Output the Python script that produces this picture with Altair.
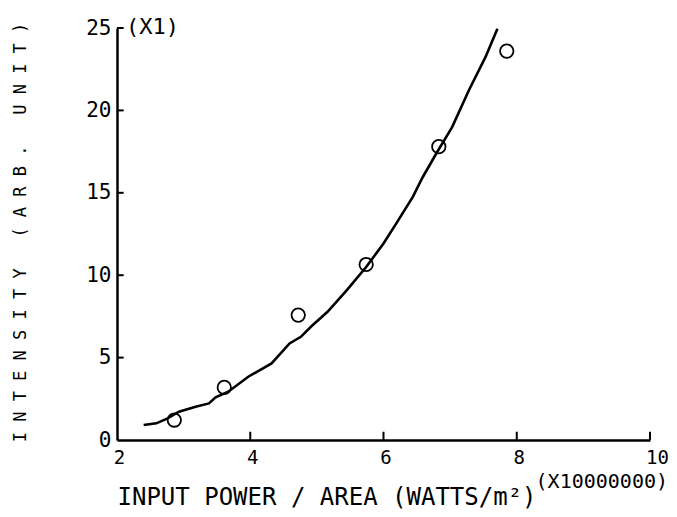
import altair as alt
import pandas as pd

# ---- data ----
line_x = [2.40, 2.59, 2.76, 2.93, 3.18, 3.38, 3.48, 3.67, 3.97, 4.32, 4.59, 4.76,
          4.91, 5.16, 5.45, 5.74, 6.00, 6.19, 6.44, 6.59, 6.79, 7.03, 7.28, 7.53, 7.71]
line_y = [0.91, 1.01, 1.31, 1.72, 2.02, 2.22, 2.59, 2.93, 3.84, 4.65, 5.86, 6.26,
          6.87, 7.78, 9.09, 10.50, 11.92, 13.13, 14.75, 15.96, 17.37, 18.99, 21.21, 23.23, 24.95]
point_x = [2.86, 3.61, 4.72, 5.74, 6.83, 7.85]
point_y = [1.21, 3.19, 7.58, 10.65, 17.80, 23.60]

x_ticks = [2, 4, 6, 8, 10]
y_ticks = [0, 5, 10, 15, 20, 25]
x_inner_ticks = [4, 6, 8, 10]
y_inner_ticks = [5, 10, 15, 20, 25]

x_title = "INPUT POWER / AREA (WATTS/m²)"
y_title = "INTENSITY (ARB. UNIT)"
x_scale_note = "(X10000000)"
y_scale_note = "(X1)"

FONT = "DejaVu Sans Mono"
NBSP = "\u00a0"

xs = alt.Scale(domain=[2, 10], nice=False, zero=False)
ys = alt.Scale(domain=[0, 25], nice=False, zero=False)

x_axis = alt.Axis(
    values=x_ticks, ticks=False, grid=False,
    domainColor="black", domainWidth=2.5,
    labelFont=FONT, labelFontSize=19, labelColor="black",
    labelPadding=8, labelFlush=False, labelOverlap=False,
    labelOffset={"condition": {"test": "datum.value == 10", "value": 7}, "value": 2},
    title=x_title, titleFont=FONT, titleFontSize=24, titleFontWeight="normal",
    titleColor="black", titleAnchor="start", titleAlign="left",
    titleBaseline="middle", titleX=0, titleY=57,
)
y_axis = alt.Axis(
    values=y_ticks, ticks=False, grid=False,
    domainColor="black", domainWidth=2.5,
    labelFont=FONT, labelFontSize=21, labelColor="black",
    labelPadding=6, labelFlush=False, labelOverlap=False,
    title=NBSP.join(y_title.replace(" ", NBSP)), titleFont=FONT, titleFontSize=17,
    titleFontWeight="normal", titleColor="black",
    titleAngle=270, titleAlign="center", titleBaseline="middle",
    titleX=-97, titleY=204,
)

X = alt.X("x:Q", scale=xs, axis=x_axis)
Y = alt.Y("y:Q", scale=ys, axis=y_axis)

line_df = pd.DataFrame({"x": line_x, "y": line_y})
pts_df = pd.DataFrame({"x": point_x, "y": point_y})
xt_df = pd.DataFrame({"x": x_inner_ticks, "y": [0] * len(x_inner_ticks),
                      "y2": [0.5] * len(x_inner_ticks)})
yt_df = pd.DataFrame({"y": y_inner_ticks, "x": [2] * len(y_inner_ticks),
                      "x2": [2.1] * len(y_inner_ticks)})
ynote_df = pd.DataFrame({"x": [2], "y": [25], "t": [y_scale_note]})
xnote_df = pd.DataFrame({"x": [10], "y": [0], "t": [x_scale_note]})

curve = alt.Chart(line_df).mark_line(color="black", strokeWidth=2.6).encode(
    x=X, y=Y, order="x:Q",
)

points = alt.Chart(pts_df).mark_point(
    shape="circle", filled=False, color="black", size=180, strokeWidth=1.8, opacity=1
).encode(x=X, y=Y)

xticks = alt.Chart(xt_df).mark_rule(color="black", strokeWidth=2).encode(
    x=X, y=Y, y2="y2:Q",
)
yticks = alt.Chart(yt_df).mark_rule(color="black", strokeWidth=2).encode(
    y=Y, x=X, x2="x2:Q",
)

ynote = alt.Chart(ynote_df).mark_text(
    font=FONT, fontSize=22, color="black", align="left", baseline="middle", dx=9, dy=-1
).encode(x=X, y=Y, text="t:N")
xnote = alt.Chart(xnote_df).mark_text(
    font=FONT, fontSize=20, color="black", align="right", baseline="middle", dx=18, dy=42
).encode(x=X, y=Y, text="t:N")

chart = alt.layer(curve, xticks, yticks, points, ynote, xnote).properties(
    width=533, height=412,
    autosize=alt.AutoSizeParams(type="none"),
    padding={"left": 109, "top": 20, "right": 19, "bottom": 69},
    background="white",
).configure_view(stroke=None)

chart.save("out.html", embed_options={"renderer": "svg", "actions": False})
